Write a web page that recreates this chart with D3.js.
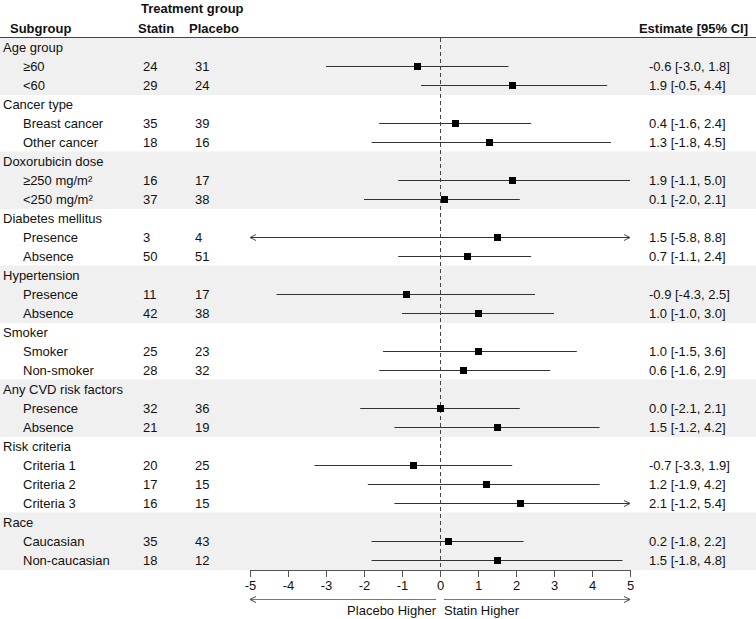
<!DOCTYPE html>
<html>
<head>
<meta charset="utf-8">
<script src="https://cdn.jsdelivr.net/npm/d3@7"></script>
<style>
  body { margin: 0; background: #fff; }
  text { font-family: "Liberation Sans", Arial, sans-serif; font-size: 13px; fill: #111; }
</style>
</head>
<body>
<div id="chart"></div>
<script>
// Chart data
const groupNames = ["Age group", "Cancer type", "Doxorubicin dose", "Diabetes mellitus",
  "Hypertension", "Smoker", "Any CVD risk factors", "Risk criteria", "Race"];
const groupSizes = [2, 2, 2, 2, 2, 2, 2, 3, 2];
const subgroupLabels = ["≥60", "<60", "Breast cancer", "Other cancer", "≥250 mg/m²", "<250 mg/m²",
  "Presence", "Absence", "Presence", "Absence", "Smoker", "Non-smoker", "Presence", "Absence",
  "Criteria 1", "Criteria 2", "Criteria 3", "Caucasian", "Non-caucasian"];
const statinN = [24, 29, 35, 18, 16, 37, 3, 50, 11, 42, 25, 28, 32, 21, 20, 17, 16, 35, 18];
const placeboN = [31, 24, 39, 16, 17, 38, 4, 51, 17, 38, 23, 32, 36, 19, 25, 15, 15, 43, 12];
const estimate = [-0.6, 1.9, 0.4, 1.3, 1.9, 0.1, 1.5, 0.7, -0.9, 1.0, 1.0, 0.6, 0.0, 1.5, -0.7, 1.2, 2.1, 0.2, 1.5];
const lower = [-3.0, -0.5, -1.6, -1.8, -1.1, -2.0, -5.8, -1.1, -4.3, -1.0, -1.5, -1.6, -2.1, -1.2, -3.3, -1.9, -1.2, -1.8, -1.8];
const upper = [1.8, 4.4, 2.4, 4.5, 5.0, 2.1, 8.8, 2.4, 2.5, 3.0, 3.6, 2.9, 2.1, 4.2, 1.9, 4.2, 5.4, 2.2, 4.8];
const xTicks = [-5, -4, -3, -2, -1, 0, 1, 2, 3, 4, 5];

const svgWidth = 756;
const svgHeight = 619;

// Build row list: group header rows followed by their subgroups
const rows = [];
let k = 0;
groupNames.forEach((g, gi) => {
  rows.push({ type: "group", label: g, gi: gi });
  for (let j = 0; j < groupSizes[gi]; j++) {
    rows.push({
      type: "sub", label: subgroupLabels[k], gi: gi,
      statin: statinN[k], placebo: placeboN[k],
      est: estimate[k], lo: lower[k], hi: upper[k]
    });
    k++;
  }
});
rows.forEach((r, i) => r.i = i);

const svg = d3.select("#chart").append("svg")
  .attr("width", svgWidth)
  .attr("height", svgHeight);

const x = d3.scaleLinear().domain([-5, 5]).range([250, 630]);
const y = d3.scaleBand().domain(d3.range(rows.length)).range([37.5, 569.5]);
const yc = i => y(i) + y.bandwidth() / 2;

// Arrow markers
const defs = svg.append("defs");
defs.append("marker")
  .attr("id", "arrow")
  .attr("viewBox", "0 0 8 8")
  .attr("refX", 7).attr("refY", 4)
  .attr("markerWidth", 8).attr("markerHeight", 8)
  .attr("markerUnits", "userSpaceOnUse")
  .attr("orient", "auto-start-reverse")
  .append("path")
  .attr("d", "M1,1 L7,4 L1,7")
  .attr("fill", "none")
  .attr("stroke", "#444")
  .attr("stroke-width", 1);

// Shaded bands for alternating groups
svg.append("g").selectAll("rect")
  .data(rows.filter(r => r.gi % 2 === 0))
  .join("rect")
  .attr("x", 0)
  .attr("y", d => y(d.i))
  .attr("width", svgWidth)
  .attr("height", y.bandwidth() + 0.5)
  .attr("fill", "#f0f0f0");

// Header
svg.append("text").attr("x", 141).attr("y", 13).attr("font-weight", "bold").text("Treatment group");
svg.append("text").attr("x", 10).attr("y", 33).attr("font-weight", "bold").text("Subgroup");
svg.append("text").attr("x", 138).attr("y", 33).attr("font-weight", "bold").text("Statin");
svg.append("text").attr("x", 189).attr("y", 33).attr("font-weight", "bold").text("Placebo");
svg.append("text").attr("x", 748).attr("y", 33).attr("text-anchor", "end")
  .attr("font-weight", "bold").text("Estimate [95% CI]");
svg.append("line")
  .attr("x1", 0).attr("x2", svgWidth)
  .attr("y1", 37.5).attr("y2", 37.5)
  .attr("stroke", "#444").attr("stroke-width", 1);

// Zero reference line
svg.append("line")
  .attr("x1", x(0) + 0.5).attr("x2", x(0) + 0.5)
  .attr("y1", 38).attr("y2", 570)
  .attr("stroke", "#444")
  .attr("stroke-dasharray", "4,3");

// Left table text
const rowText = svg.append("g").selectAll("g")
  .data(rows)
  .join("g")
  .attr("transform", d => `translate(0,${yc(d.i)})`);

rowText.append("text")
  .attr("x", d => d.type === "group" ? 3 : 23)
  .attr("dy", "0.36em")
  .text(d => d.label);

const subs = rowText.filter(d => d.type === "sub");
subs.append("text").attr("x", 143).attr("dy", "0.36em").text(d => d.statin);
subs.append("text").attr("x", 195).attr("dy", "0.36em").text(d => d.placebo);
subs.append("text").attr("x", 649).attr("dy", "0.36em")
  .text(d => `${d.est.toFixed(1)} [${d.lo.toFixed(1)}, ${d.hi.toFixed(1)}]`);

// Confidence intervals
const ciRows = rows.filter(r => r.type === "sub");
const dom = x.domain();
svg.append("g").selectAll("line")
  .data(ciRows)
  .join("line")
  .attr("x1", d => x(Math.max(d.lo, dom[0])))
  .attr("x2", d => x(Math.min(d.hi, dom[1])))
  .attr("y1", d => yc(d.i) + 0.5)
  .attr("y2", d => yc(d.i) + 0.5)
  .attr("stroke", "#333")
  .attr("stroke-width", 1)
  .attr("marker-start", d => d.lo < dom[0] ? "url(#arrow)" : null)
  .attr("marker-end", d => d.hi > dom[1] ? "url(#arrow)" : null);

// Point estimates
svg.append("g").selectAll("rect")
  .data(ciRows)
  .join("rect")
  .attr("x", d => Math.round(x(d.est)) - 3)
  .attr("y", d => yc(d.i) - 3)
  .attr("width", 7)
  .attr("height", 7)
  .attr("fill", "#000");

// Axis
const axis = svg.append("g")
  .attr("transform", "translate(0,570)")
  .call(d3.axisBottom(x).tickValues(xTicks).tickFormat(d => String(d))
    .tickSize(7).tickSizeOuter(0).tickPadding(4));
axis.select(".domain").attr("stroke", "#555");
axis.selectAll(".tick line").attr("stroke", "#555");
axis.selectAll(".tick text").attr("font-size", 13).attr("font-family", "Liberation Sans, Arial, sans-serif").attr("fill", "#111");

// Direction arrows
svg.append("line")
  .attr("x1", x(0) - 4).attr("x2", x(-5))
  .attr("y1", 599.5).attr("y2", 599.5)
  .attr("stroke", "#777").attr("marker-end", "url(#arrow)");
svg.append("line")
  .attr("x1", x(0) + 4).attr("x2", x(5))
  .attr("y1", 599.5).attr("y2", 599.5)
  .attr("stroke", "#777").attr("marker-end", "url(#arrow)");
svg.append("text").attr("x", x(0) - 4).attr("y", 615).attr("text-anchor", "end").text("Placebo Higher");
svg.append("text").attr("x", x(0) + 4).attr("y", 615).text("Statin Higher");
</script>
</body>
</html>
